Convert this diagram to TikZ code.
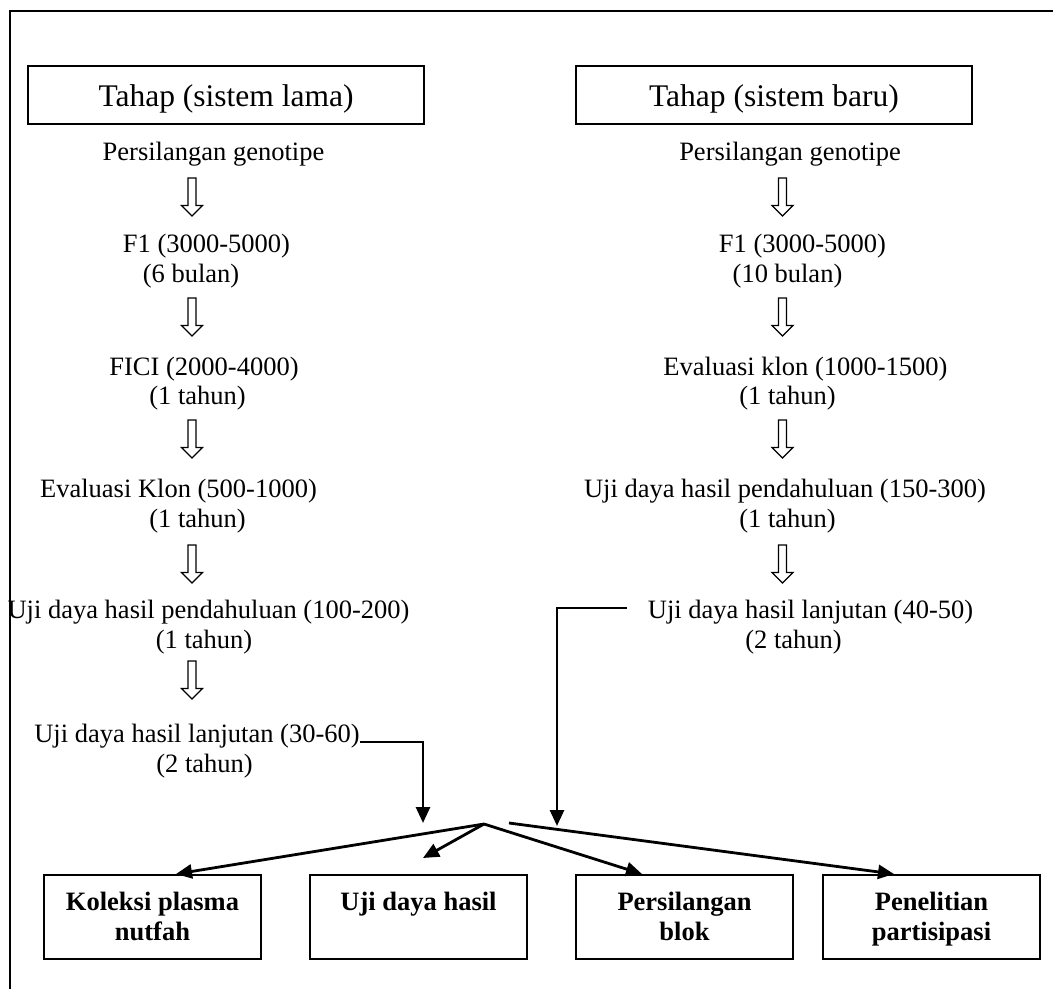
\documentclass[tikz,border=0pt]{standalone}
\usepackage{fontspec}
\setmainfont{Liberation Serif}
\usetikzlibrary{arrows.meta}
\newcommand{\firstln}{\rule{0pt}{23.5pt}}
\newcommand{\lastln}{\vphantom{g}}
\begin{document}
\begin{tikzpicture}[x=1pt,y=-1pt,
  txt/.style={inner sep=0pt, anchor=base, font=\fontsize{26.5}{30}\selectfont},
  head/.style={draw, line width=2pt, inner sep=0pt, minimum width=396pt, text height=40pt, text depth=18pt, anchor=north west, font=\fontsize{31.5}{36}\selectfont},
  outbox/.style={draw, line width=2pt, inner sep=0pt, minimum width=217pt, minimum height=84pt, align=center, anchor=north west, font=\bfseries\fontsize{26.5}{30}\selectfont},
  conn/.style={line width=2.8pt, -{Triangle[length=16pt,width=14pt]}},
  frameline/.style={line width=2pt},
  hollowarrow/.pic={\draw[line width=1.3pt] (-4,0) -- (4,0) -- (4,27.5) -- (10.5,27.5) -- (0,38) -- (-10.5,27.5) -- (-4,27.5) -- cycle;}
]
\useasboundingbox (0,0) rectangle (1053,989);
% outer frame (top and left edges)
\draw[frameline] (10,989) -- (10,11) -- (1053,11);

% headers
\node[head] (H1) at (27,65) {Tahap (sistem lama)};
\node[head] (H2) at (575,65) {Tahap (sistem baru)};

% left column
\node[txt] (L0)  at (213.5,160) {Persilangan genotipe};
\node[txt] (L1a) at (206.5,252) {F1 (3000-5000)};
\node[txt] (L1b) at (191,282)   {(6 bulan)};
\node[txt] (L2a) at (204,375)   {FICI (2000-4000)};
\node[txt] (L2b) at (197.5,404) {(1 tahun)};
\node[txt] (L3a) at (178.5,497) {Evaluasi Klon (500-1000)};
\node[txt] (L3b) at (197.5,527) {(1 tahun)};
\node[txt] (L4a) at (208.5,618) {Uji daya hasil pendahuluan (100-200)};
\node[txt] (L4b) at (204,648)   {(1 tahun)};
\node[txt] (L5a) at (197,742)   {Uji daya hasil lanjutan (30-60)};
\node[txt] (L5b) at (204.5,772) {(2 tahun)};

\pic at (192,178) {hollowarrow};
\pic at (192,298) {hollowarrow};
\pic at (192,420) {hollowarrow};
\pic at (192,545) {hollowarrow};
\pic at (192,661) {hollowarrow};

% right column
\node[txt] (R0)  at (790,160)   {Persilangan genotipe};
\node[txt] (R1a) at (802.5,252) {F1 (3000-5000)};
\node[txt] (R1b) at (787.5,282) {(10 bulan)};
\node[txt] (R2a) at (805.5,375) {Evaluasi klon (1000-1500)};
\node[txt] (R2b) at (787.5,404) {(1 tahun)};
\node[txt] (R3a) at (785,497)   {Uji daya hasil pendahuluan (150-300)};
\node[txt] (R3b) at (787.5,527) {(1 tahun)};
\node[txt] (R4a) at (810.5,618) {Uji daya hasil lanjutan (40-50)};
\node[txt] (R4b) at (793.5,648) {(2 tahun)};

\pic at (782.5,178) {hollowarrow};
\pic at (782.5,298) {hollowarrow};
\pic at (782.5,420) {hollowarrow};
\pic at (782.5,545) {hollowarrow};

% bottom boxes
\node[outbox] (B1) at (43,874)  {\firstln Koleksi plasma\\nutfah\lastln};
\node[outbox] (B2) at (309,874) {\firstln Uji daya hasil\\\lastln};
\node[outbox] (B3) at (575,874) {\firstln Persilangan\\blok\lastln};
\node[outbox] (B4) at (822,874) {\firstln Penelitian\\partisipasi\lastln};

% connectors
\coordinate (aL) at (423,823);
\coordinate (aR) at (557,826);
\coordinate (hub) at (484,824);
\coordinate (hub2) at (509,823);
\coordinate (tipS) at (423,858);

\draw[conn] (L5a.base east) -| (aL);
\draw[conn] ([shift={(-21,-10)}]R4a.base west) -| (aR);
\draw[conn] (hub) -- ([xshift=23.5pt]B1.north);
\draw[conn] (hub) -- (tipS);
\draw[conn] (hub) -- ([xshift=-42.5pt]B3.north);
\draw[conn] (hub2) -- ([xshift=-37.5pt]B4.north);
\end{tikzpicture}
\end{document}
